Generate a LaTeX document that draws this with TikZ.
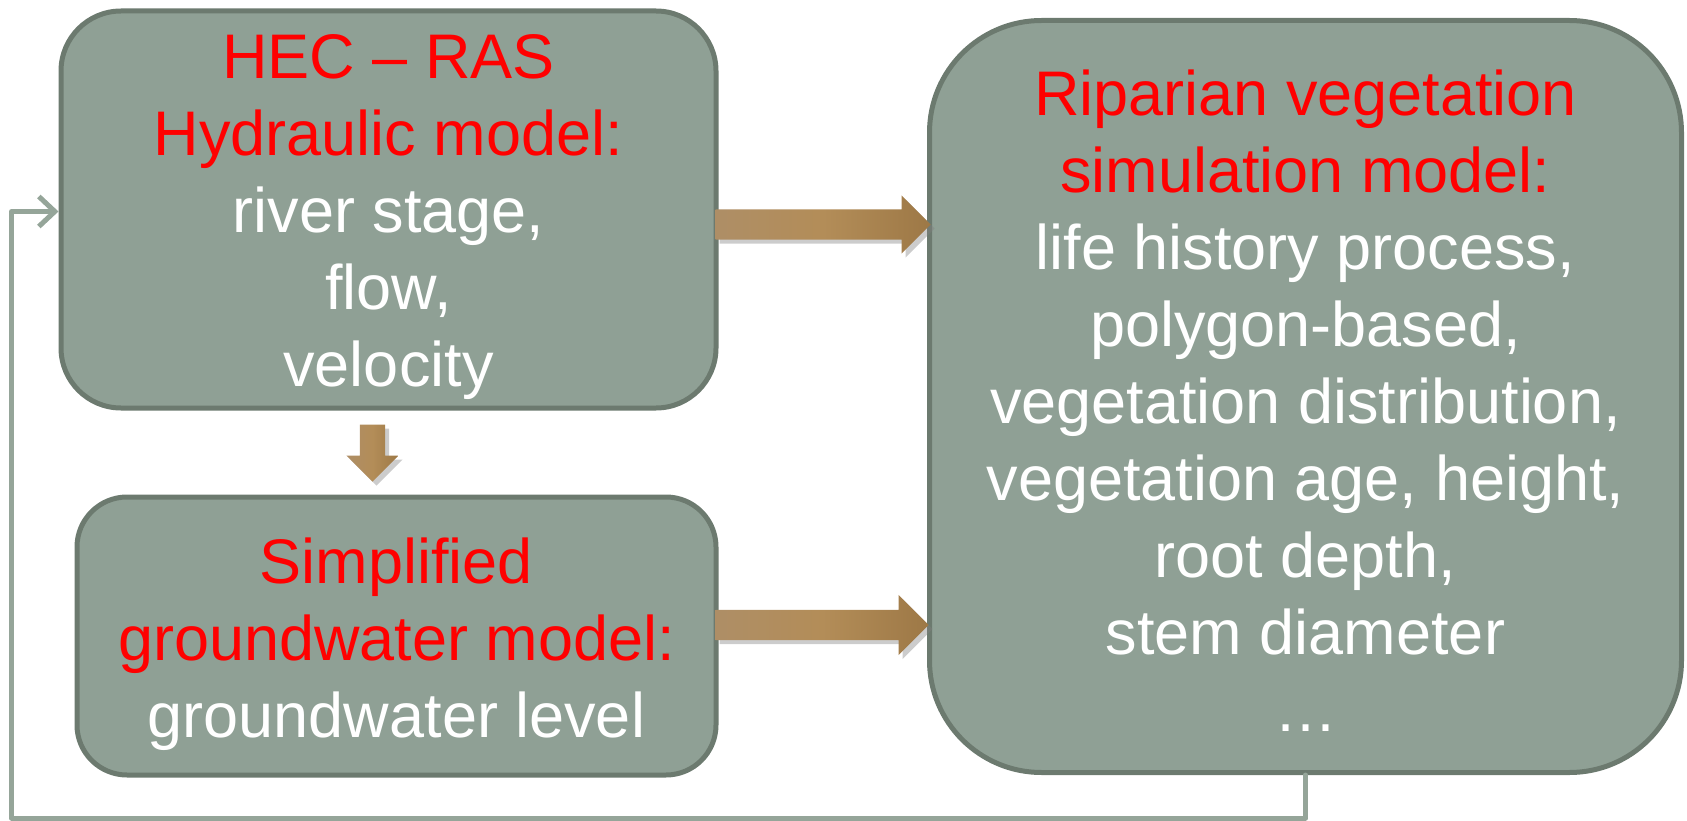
\documentclass[tikz,border=0pt]{standalone}
\usepackage{fontspec}
\setmainfont{Liberation Sans}
\usetikzlibrary{shapes.arrows, arrows.meta, calc, shadows}
\definecolor{boxfill}{HTML}{8FA095}
\definecolor{boxline}{HTML}{6C7A6F}
\definecolor{loopgreen}{HTML}{95A599}
\definecolor{arrowleft}{HTML}{AE8E66}
\definecolor{arrowmid}{HTML}{B38D58}
\definecolor{arrowdark}{HTML}{9D7846}
\definecolor{titlered}{HTML}{FF0000}
\newcommand{\hlred}[1]{\textcolor{titlered}{#1}}
\newcommand{\topgap}[1]{\rule{0pt}{#1}}

\begin{document}
\begin{tikzpicture}[x=1pt, y=-1pt,
    modelbox/.style={draw=boxline, fill=boxfill, line width=5pt, align=center,
      text=white, font=\fontsize{63}{77}\selectfont, inner sep=0pt},
    fatarrow/.style={single arrow, inner xsep=0pt, minimum width=0pt,
      single arrow tip angle=90, left color=arrowleft, right color=arrowdark,
      middle color=arrowmid, draw=none,
      drop shadow={shadow xshift=4pt, shadow yshift=-4pt, opacity=0.4}},
    loopline/.style={draw=loopgreen, line width=5pt, line cap=round, line join=round}]
  \useasboundingbox (0,0) rectangle (1687,821);

  % the three models
  \node[modelbox, minimum width=655pt, minimum height=397pt, rounded corners=60pt]
    (hec) at (388.5,209.5) {\topgap{60pt}\hlred{HEC -- RAS}\\
      \hlred{Hydraulic model:}\\ river stage,\\ flow,\\ velocity};
  \node[modelbox, minimum width=639pt, minimum height=278pt, rounded corners=50pt]
    (gw) at (396.5,636) {\topgap{62pt}\hlred{Simplified}\\ \hlred{groundwater model:}\\ groundwater level};
  \node[modelbox, minimum width=752pt, minimum height=752pt, rounded corners=112pt]
    (rvs) at (1305.5,396.5) {\topgap{54pt}\hlred{Riparian vegetation}\\ \hlred{simulation model:}\\
      life history process,\\ polygon-based,\\ vegetation distribution,\\
      vegetation age, height,\\ root depth,\\ stem diameter\\ \dots};

  % block arrows between the models
  \node[fatarrow, inner ysep=15pt, single arrow head extend=14pt, minimum height=215pt,
    anchor=tail] (hec2rvs) at ($(hec.east)+(-3,15)$) {};
  \node[fatarrow, inner ysep=15pt, single arrow head extend=15pt, minimum height=213pt,
    anchor=tail] (gw2rvs) at ($(gw.east)+(-3,-11)$) {};
  \node[fatarrow, inner ysep=12.5pt, single arrow head extend=13.5pt, minimum height=57pt,
    rotate=-90, anchor=tail] (hec2gw) at ($(hec.south)+(-16,14)$) {};

  % feedback loop
  \draw[loopline, -{Straight Barb[length=16pt, width=30pt]}]
    (rvs.south) -- ++(0,43) -| ($(hec.west)+(-47,2)$) -- ($(hec.west)+(0,2)$);
\end{tikzpicture}
\end{document}
